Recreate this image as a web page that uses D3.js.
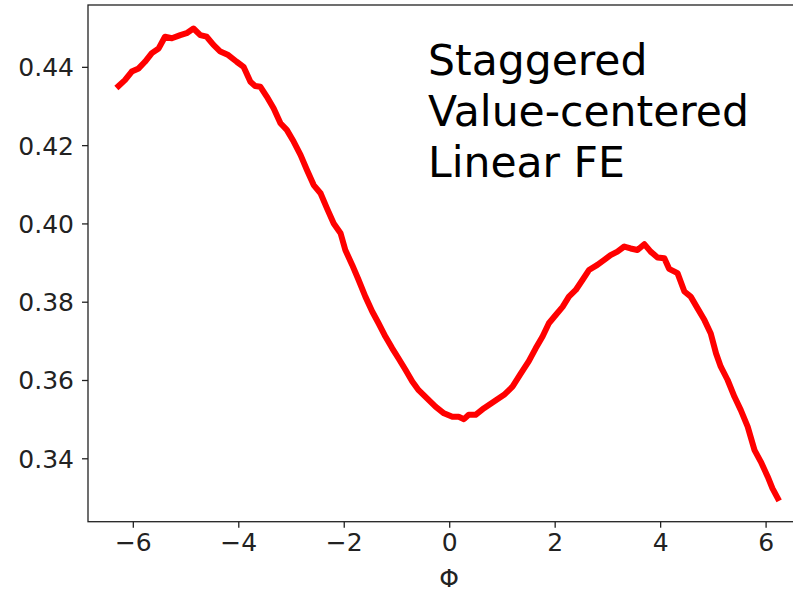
<!DOCTYPE html>
<html>
<head>
<meta charset="utf-8">
<script src="https://cdn.jsdelivr.net/npm/d3@7"></script>
<style>
  html, body { margin: 0; padding: 0; background: #fff; overflow: hidden; }
  svg { display: block; }
  text { font-family: "DejaVu Sans", Verdana, sans-serif; }
</style>
</head>
<body>
<svg id="chart" width="793" height="593"></svg>
<script>
// Data
const phi = [-6.27,-6.15,-6.02,-5.89,-5.77,-5.64,-5.51,-5.39,-5.26,-5.10,-4.98,-4.85,-4.72,-4.60,-4.47,-4.34,-4.19,-4.03,-3.90,-3.77,
  -3.68,-3.58,-3.46,-3.33,-3.20,-3.08,-2.95,-2.82,-2.70,-2.57,-2.44,-2.32,-2.19,-2.06,-1.97,-1.84,-1.72,-1.59,-1.46,-1.34,
  -1.21,-1.08,-0.96,-0.83,-0.70,-0.58,-0.42,-0.26,-0.10,0.06,0.18,0.28,0.37,0.50,0.66,0.85,1.04,1.20,1.35,1.51,
  1.64,1.77,1.89,2.02,2.15,2.27,2.40,2.53,2.65,2.81,2.94,3.06,3.19,3.32,3.44,3.57,3.70,3.82,3.95,4.08,
  4.17,4.33,4.46,4.58,4.71,4.84,4.96,5.06,5.15,5.28,5.41,5.53,5.66,5.79,5.91,6.04,6.13,6.23];
const value = [0.4351,0.4366,0.4388,0.4396,0.4413,0.4435,0.4447,0.4477,0.4473,0.4481,0.4486,0.4498,0.4481,0.4477,0.4456,0.4439,0.4430,0.4413,0.4400,0.4362,
  0.4351,0.4349,0.4324,0.4294,0.4256,0.4239,0.4209,0.4175,0.4137,0.4098,0.4077,0.4039,0.4000,0.3975,0.3932,0.3894,0.3856,0.3813,0.3775,0.3745,
  0.3711,0.3681,0.3655,0.3626,0.3596,0.3574,0.3553,0.3532,0.3515,0.3506,0.3506,0.3500,0.3511,0.3511,0.3528,0.3545,0.3562,0.3583,0.3615,0.3648,
  0.3681,0.3711,0.3745,0.3766,0.3787,0.3813,0.3830,0.3856,0.3881,0.3894,0.3907,0.3919,0.3928,0.3941,0.3936,0.3932,0.3947,0.3928,0.3913,0.3911,
  0.3884,0.3873,0.3826,0.3813,0.3783,0.3753,0.3719,0.3668,0.3634,0.3600,0.3557,0.3523,0.3481,0.3421,0.3391,0.3353,0.3323,0.3298];
const xTicks = [-6,-4,-2,0,2,4,6];
const yTicks = [0.34,0.36,0.38,0.40,0.42,0.44];
const xDomain = [-6.85, 6.88];
const yDomain = [0.3238, 0.4558];
const annotation = ["Staggered","Value-centered","Linear FE"];
const xLabel = "Φ";

const svg = d3.select("#chart");
const mLeft = 88, mTop = 5, mBottom = 521.7, mRight = 812;
const x = d3.scaleLinear().domain(xDomain).range([mLeft, mRight]);
const y = d3.scaleLinear().domain(yDomain).range([mBottom, mTop]);

const fmtMinus = d => (d < 0 ? "\u2212" + Math.abs(d) : String(d));

// x axis
const xAxis = d3.axisBottom(x).tickValues(xTicks).tickSize(6).tickPadding(6).tickFormat(fmtMinus);
const gx = svg.append("g").attr("transform", `translate(0,${mBottom})`).call(xAxis);
// y axis
const yAxis = d3.axisLeft(y).tickValues(yTicks).tickSize(6).tickPadding(8).tickFormat(d3.format(".2f"));
const gy = svg.append("g").attr("transform", `translate(${mLeft},0)`).call(yAxis);

[gx, gy].forEach(g => {
  g.select(".domain").remove();
  g.selectAll(".tick line").attr("stroke", "#222").attr("stroke-width", 1.3);
  g.selectAll(".tick text").attr("fill", "#222").style("font-size", "25px")
    .style("font-family", "'DejaVu Sans', Verdana, sans-serif");
});
gx.selectAll(".tick text").attr("dy", "0.71em");
gy.selectAll(".tick text").attr("dy", "0.36em");

// spines
svg.append("rect").attr("x", mLeft).attr("y", mTop)
  .attr("width", mRight - mLeft).attr("height", mBottom - mTop)
  .attr("fill", "none").attr("stroke", "#222").attr("stroke-width", 1.3);

// line
const line = d3.line().x((d, i) => x(phi[i])).y(d => y(d));
svg.append("path").datum(value)
  .attr("d", line)
  .attr("fill", "none")
  .attr("stroke", "#ff0000")
  .attr("stroke-width", 6)
  .attr("stroke-linejoin", "round")
  .attr("stroke-linecap", "square");

// annotation
const ann = svg.append("text").attr("x", 428).attr("y", 75)
  .attr("fill", "#000").style("font-size", "42.5px");
annotation.forEach((t, i) => {
  ann.append("tspan").attr("x", 428).attr("y", 75 + i * 51).text(t);
});

// x label
svg.append("text").attr("x", x(0)).attr("y", 587)
  .attr("text-anchor", "middle").attr("fill", "#222")
  .style("font-size", "25px").text(xLabel);
</script>
</body>
</html>
